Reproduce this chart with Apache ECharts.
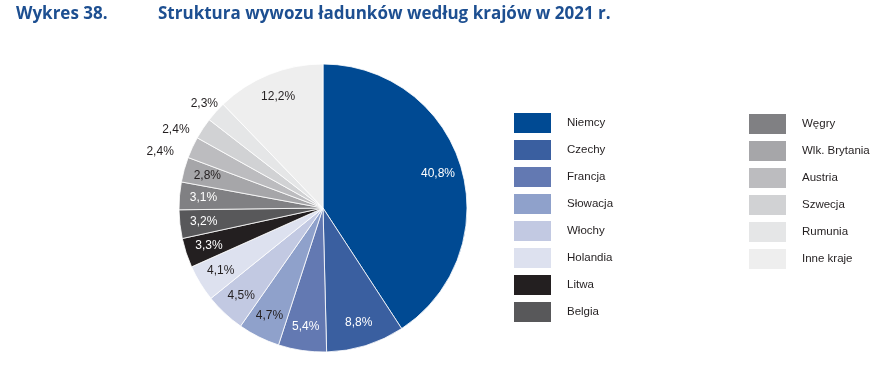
<!DOCTYPE html>
<html><head><meta charset="utf-8">
<script src="https://cdn.jsdelivr.net/npm/echarts@6/dist/echarts.min.js"></script>
<style>html,body{margin:0;padding:0;background:#fff}#c{width:871px;height:374px}</style>
</head><body><div id="c"></div>
<script>
const countries = ['Niemcy','Czechy','Francja','Słowacja','Włochy','Holandia','Litwa','Belgia','Węgry','Wlk. Brytania','Austria','Szwecja','Rumunia','Inne kraje'];
const shares = [40.8, 8.8, 5.4, 4.7, 4.5, 4.1, 3.3, 3.2, 3.1, 2.8, 2.4, 2.4, 2.3, 12.2];
const colors = ['#004a93','#3a5fa0','#6379b2','#8fa1cb','#c2c9e2','#dde1ef','#231f20','#58585a','#808083','#a6a6a9','#bcbcbf','#d1d2d4','#e5e6e7','#eeeeee'];
const labelColors = ['#fff','#fff','#fff','#231f20','#231f20','#231f20','#fff','#fff','#fff','#231f20','#231f20','#231f20','#231f20','#231f20'];
const outsideLabels = {'Austria':[3,11], 'Szwecja':[7,10], 'Rumunia':[21,3]};

const FONT = '"Liberation Sans",Arial,sans-serif';
const fmt = v => v.toFixed(1).replace('.', ',') + '%';

const mainData = countries.map((n,i)=>({
  name:n, value:shares[i], itemStyle:{color:colors[i]},
  label: outsideLabels[n] ? {show:true, offset:outsideLabels[n]} : {show:false}
}));
const labelData = countries.map((n,i)=>({
  name:n, value:shares[i],
  label:{show:!outsideLabels[n], color:labelColors[i]}
}));

const legendText = {fontFamily:FONT, fontSize:11.5, color:'#231f20', padding:[0,0,0,10]};
const chart = echarts.init(document.getElementById('c'));
chart.setOption({
  animation:false,
  title:[
    {text:'Wykres 38.', left:11, top:1, textStyle:{fontFamily:'"Open Sans",sans-serif', fontWeight:'bold', fontSize:17, color:'#1d4f91'}},
    {text:'Struktura wywozu ładunków według krajów w 2021 r.', left:153, top:1, textStyle:{fontFamily:'"Open Sans",sans-serif', fontWeight:'bold', fontSize:17, color:'#1d4f91'}}
  ],
  legend:[
    {data:countries.slice(0,8), orient:'vertical', left:512, top:111, padding:0, itemWidth:39, itemHeight:22, itemGap:3, icon:'rect',
     textStyle:legendText, selectedMode:false},
    {data:countries.slice(8), orient:'vertical', left:747, top:112, padding:0, itemWidth:39, itemHeight:22, itemGap:3, icon:'rect',
     textStyle:legendText, selectedMode:false}
  ],
  series:[
    {type:'pie', center:[323,208], radius:[0,144], startAngle:90, clockwise:true, silent:true,
     itemStyle:{borderColor:'#fff', borderWidth:0.8},
     label:{position:'outside', formatter:p=>fmt(p.value), fontFamily:FONT, fontSize:12, color:'#231f20'},
     labelLine:{show:false, length:16, length2:2},
     data:mainData},
    {type:'pie', center:[323,208], radius:[90,144], startAngle:90, clockwise:true, silent:true,
     itemStyle:{color:'rgba(0,0,0,0)'},
     label:{position:'inside', formatter:p=>fmt(p.value), fontFamily:FONT, fontSize:12},
     labelLine:{show:false},
     data:labelData}
  ]
});
</script></body></html>
